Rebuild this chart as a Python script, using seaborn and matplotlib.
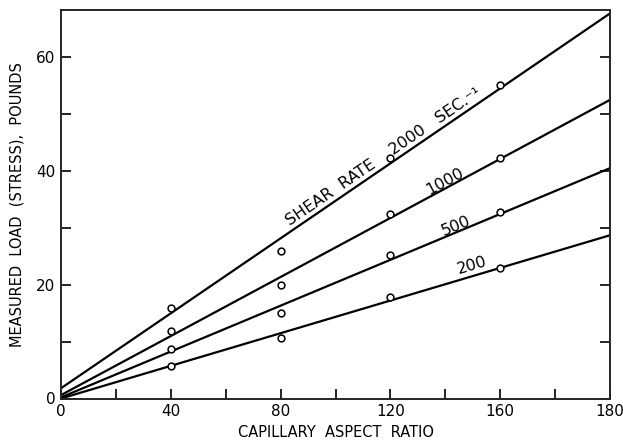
import numpy as np
import pandas as pd
import matplotlib
matplotlib.use("Agg")
import matplotlib.pyplot as plt
import seaborn as sns

# measured points (capillary aspect ratio vs load in pounds)
aspect_ratio = [40, 80, 120, 160]
load_2000 = [15.9, 26.0, 42.3, 55.1]
load_1000 = [11.9, 19.9, 32.5, 42.2]
load_500 = [8.75, 15.0, 25.2, 32.8]
load_200 = [5.8, 10.6, 17.9, 22.9]

# drawn straight lines, value at left and right edge of the plot
line_x = [0, 200]
line_2000 = [1.8, 67.7]
line_1000 = [0.6, 52.5]
line_500 = [0.2, 40.5]
line_200 = [0.0, 28.7]

rates = ["2000", "1000", "500", "200"]
curve_labels = ["SHEAR  RATE    2000   SEC.\u207b\u00b9", "1000", "500", "200"]
label_x = [117.5, 139.9, 143.9, 149.7]
label_y = [42.6, 38.2, 30.4, 23.4]

x_major = [0, 40, 80, 120, 160, 200]
x_ticklabels = ["0", "40", "80", "120", "160", "180"]
y_major = [0, 20, 40, 60]

pts = pd.DataFrame({
    "x": aspect_ratio * 4,
    "load": load_2000 + load_1000 + load_500 + load_200,
    "rate": sum([[r] * 4 for r in rates], []),
})
lines = pd.DataFrame({
    "x": line_x * 4,
    "load": line_2000 + line_1000 + line_500 + line_200,
    "rate": sum([[r] * 2 for r in rates], []),
})

sns.set_style("ticks")
plt.rcParams["font.family"] = ["DejaVu Sans"]
plt.rcParams["text.color"] = "black"
plt.rcParams["axes.labelcolor"] = "black"
plt.rcParams["xtick.color"] = "black"
plt.rcParams["ytick.color"] = "black"

fig = plt.figure(figsize=(6.23, 4.42), dpi=100)
ax = fig.add_axes([61 / 623, 43.5 / 442, 549 / 623, 388.5 / 442])

sns.lineplot(data=lines, x="x", y="load", units="rate", estimator=None,
             color="black", lw=1.6, ax=ax)
sns.scatterplot(data=pts, x="x", y="load", marker="o", s=24,
                facecolor="white", edgecolor="black", linewidth=1.1,
                zorder=3, ax=ax)

ax.set_xlim(0, 200)
ax.set_ylim(0, 68.3)

slopes = [(l[1] - l[0]) / (line_x[1] - line_x[0])
          for l in [line_2000, line_1000, line_500, line_200]]
for txt, lx, ly, s in zip(curve_labels, label_x, label_y, slopes):
    ax.text(lx, ly, txt, fontsize=11.5, ha="center", va="center",
            rotation=np.degrees(np.arctan(s)), transform_rotates_text=True,
            rotation_mode="anchor")

ax.set_xticks(x_major)
ax.set_xticklabels(x_ticklabels)
ax.set_xticks(np.arange(20, 200, 40), minor=True)
ax.set_yticks(y_major)
ax.set_yticks([10, 30, 50], minor=True)
ax.tick_params(which="both", direction="in", length=7, width=1.2,
               labelsize=11, pad=4)
ax.tick_params(axis="y", which="both", right=True)

for sp in ax.spines.values():
    sp.set_linewidth(1.4)

ax.set_xlabel("CAPILLARY  ASPECT  RATIO", fontsize=10.5, labelpad=4)
ax.set_ylabel("MEASURED  LOAD  (STRESS),  POUNDS", fontsize=10.5, labelpad=8)

fig.savefig("out.png", dpi=100)
